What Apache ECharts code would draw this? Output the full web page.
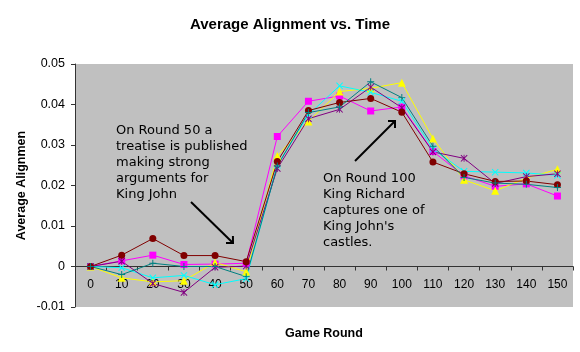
<!DOCTYPE html>
<html>
<head>
<meta charset="utf-8">
<style>
html,body{margin:0;padding:0;background:#fff;}
#chart{width:580px;height:352px;}
</style>
<script src="https://cdn.jsdelivr.net/npm/echarts@6/dist/echarts.min.js"></script>
</head>
<body>
<div id="chart"></div>
<script>
var categories = ['0','10','20','30','40','50','60','70','80','90','100','110','120','130','140','150'];
var yTicks = [-0.01, 0, 0.01, 0.02, 0.03, 0.04, 0.05];

var magentaSquare = [0, 0.0014, 0.0028, 0.0005, 0.0006, 0.0008, 0.0321, 0.0408, 0.0421, 0.0384, 0.0394, 0.0284, 0.0224, 0.0198, 0.0204, 0.0174];
var yellowTriangle = [0, -0.0028, -0.0038, -0.0035, 0.0010, -0.0013, 0.0273, 0.0358, 0.0432, 0.0440, 0.0454, 0.0316, 0.0214, 0.0187, 0.0218, 0.0240];
var cyanX = [0, -0.0003, -0.0028, -0.0022, -0.0045, -0.0030, 0.0250, 0.0375, 0.0446, 0.0430, 0.0408, 0.0290, 0.0235, 0.0233, 0.0231, 0.0225];
var purpleStar = [0, 0.0013, -0.0042, -0.0064, -0.0002, 0.0001, 0.0242, 0.0365, 0.0388, 0.0443, 0.0392, 0.0283, 0.0267, 0.0205, 0.0222, 0.0229];
var darkRedCircle = [0, 0.0028, 0.0069, 0.0027, 0.0027, 0.0012, 0.0259, 0.0385, 0.0405, 0.0415, 0.0381, 0.0258, 0.0229, 0.0210, 0.0211, 0.0202];
var tealPlus = [0, -0.0020, 0.0008, 0.0000, 0.0000, -0.0025, 0.0248, 0.0380, 0.0394, 0.0456, 0.0417, 0.0297, 0.0220, 0.0206, 0.0203, 0.0195];

var note1 = ['On Round 50 a', 'treatise is published', 'making strong', 'arguments for', 'King John'];
var note2 = ['On Round 100', 'King Richard', 'captures one of', "King John's", 'castles.'];

var SYM_X = 'path://M0,1L1,0L5,4L9,0L10,1L6,5L10,9L9,10L5,6L1,10L0,9L4,5Z';
var SYM_STAR = 'path://M0,1L1,0L5,4L9,0L10,1L6,5L10,9L9,10L5,6L1,10L0,9L4,5Z M4.4,0L5.6,0L5.6,10L4.4,10Z';
var SYM_PLUS = 'path://M4.3,0L5.7,0L5.7,4.3L10,4.3L10,5.7L5.7,5.7L5.7,10L4.3,10L4.3,5.7L0,5.7L0,4.3L4.3,4.3Z';

function mkSeries(name, data, color, symbol, size) {
  return {
    name: name, type: 'line', data: data, z: 3,
    symbol: symbol, symbolSize: size, showSymbol: true,
    lineStyle: {color: color, width: 1},
    itemStyle: {color: color, borderWidth: 0},
    emphasis: {disabled: true}
  };
}

function arrow(x1, y1, x2, y2) {
  var dx = x2 - x1, dy = y2 - y1, L = Math.sqrt(dx*dx + dy*dy);
  var ux = dx / L, uy = dy / L, h = 7, a = Math.PI / 4;
  function rot(ang) {
    var c = Math.cos(ang), s = Math.sin(ang);
    return [x2 - h * (ux * c - uy * s), y2 - h * (ux * s + uy * c)];
  }
  return [
    {type: 'line', shape: {x1: x1, y1: y1, x2: x2, y2: y2}, style: {stroke: '#000', lineWidth: 2}, z: 100},
    {type: 'polyline', shape: {points: [rot(a), [x2, y2], rot(-a)]}, style: {stroke: '#000', lineWidth: 2, fill: null}, z: 100}
  ];
}

var chart = echarts.init(document.getElementById('chart'), null, {renderer: 'canvas'});
var FONT = 'Liberation Sans, Arial, sans-serif';
var option = {
  animation: false,
  backgroundColor: '#fff',
  title: {
    text: 'Average Alignment vs. Time', left: 'center', top: 12,
    textStyle: {fontFamily: FONT, fontSize: 15, fontWeight: 'bold', color: '#000'}
  },
  grid: {left: 75, right: 7, top: 64, bottom: 45, show: true, backgroundColor: '#C0C0C0', borderWidth: 0,
         containLabel: false, outerBoundsMode: 'none'},
  xAxis: {
    type: 'category', data: categories, boundaryGap: true, z: 0,
    name: 'Game Round', nameLocation: 'middle', nameGap: 20, nameMoveOverlap: false,
    nameTextStyle: {fontFamily: FONT, fontSize: 12.5, fontWeight: 'bold', color: '#000'},
    axisLine: {onZero: true, lineStyle: {color: '#333', width: 1}},
    axisTick: {show: true, alignWithLabel: false, length: 4, lineStyle: {color: '#333'}},
    axisLabel: {interval: 0, inside: true, margin: 16, fontFamily: FONT, fontSize: 12, color: '#000'},
    splitLine: {show: false}
  },
  yAxis: {
    type: 'value', min: yTicks[0], max: yTicks[yTicks.length - 1], interval: 0.01,
    name: 'Average Alignmen', nameLocation: 'middle', nameGap: 47, nameMoveOverlap: false,
    nameTextStyle: {fontFamily: FONT, fontSize: 12.5, fontWeight: 'bold', color: '#000'},
    axisLine: {show: true, lineStyle: {color: '#333', width: 1}},
    axisTick: {show: true, length: 4, lineStyle: {color: '#333'}},
    axisLabel: {margin: 10, fontFamily: FONT, fontSize: 12.5, color: '#000',
      formatter: function (v) { var r = Math.round(v * 100) / 100; return r === 0 ? '0' : r.toFixed(2); }},
    splitLine: {show: false}
  },
  series: [
    mkSeries('Series2', magentaSquare, '#FF00FF', 'rect', 7),
    mkSeries('Series3', yellowTriangle, '#FFFF00', 'triangle', 8),
    mkSeries('Series4', cyanX, '#00FFFF', SYM_X, 7),
    mkSeries('Series5', purpleStar, '#800080', SYM_STAR, 7),
    mkSeries('Series6', darkRedCircle, '#800000', 'circle', 7),
    mkSeries('Series7', tealPlus, '#008080', SYM_PLUS, 7)
  ],
  graphic: [
    {type: 'text', left: 116, top: 123, z: 100,
     style: {text: note1.join('\n'), font: '13px "DejaVu Sans", Verdana, sans-serif', lineHeight: 16, fill: '#000'}},
    {type: 'text', left: 323, top: 171, z: 100,
     style: {text: note2.join('\n'), font: '13px "DejaVu Sans", Verdana, sans-serif', lineHeight: 16, fill: '#000'}}
  ].concat(arrow(191, 202, 233, 243)).concat(arrow(355, 161, 395, 121))
};
chart.setOption(option);
</script>
</body>
</html>
